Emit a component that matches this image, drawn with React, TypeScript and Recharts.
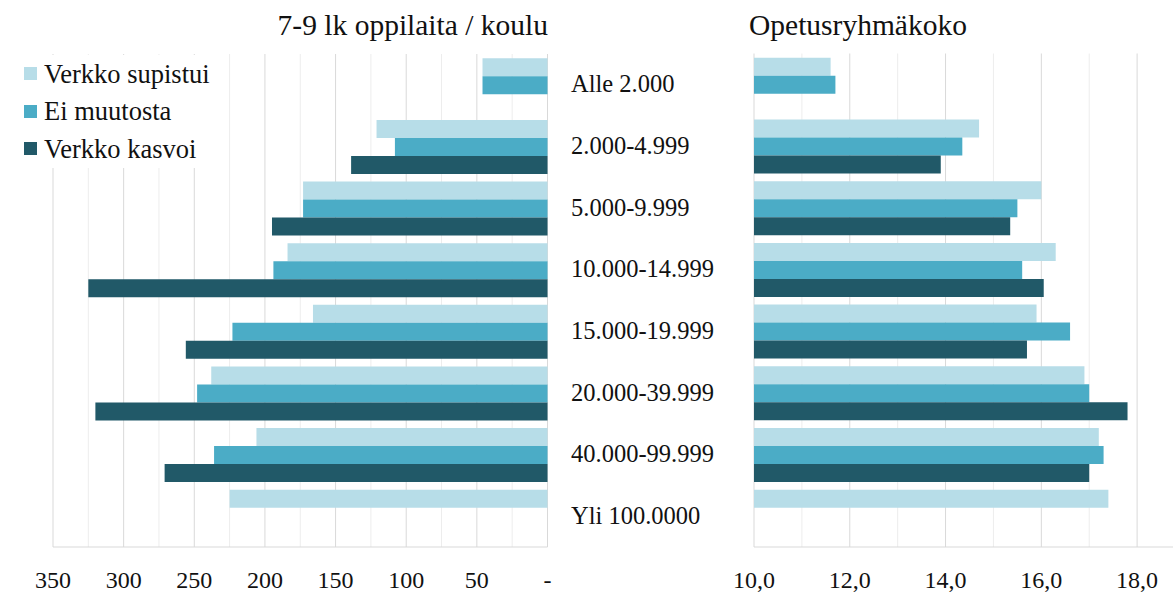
import React from 'react';
import { BarChart, Bar, XAxis, YAxis, CartesianGrid } from 'recharts';

const categories = [
  'Alle 2.000',
  '2.000-4.999',
  '5.000-9.999',
  '10.000-14.999',
  '15.000-19.999',
  '20.000-39.999',
  '40.000-99.999',
  'Yli 100.0000',
];

// 7-9 lk oppilaita / koulu
const oppilaatSupistui = [46, 121, 173, 184, 166, 238, 206, 225];
const oppilaatEiMuutosta = [46, 108, 173, 194, 223, 248, 236, null];
const oppilaatKasvoi = [null, 139, 195, 325, 256, 320, 271, null];

// Opetusryhmäkoko
const ryhmaSupistui = [11.6, 14.7, 16.0, 16.3, 15.9, 16.9, 17.2, 17.4];
const ryhmaEiMuutosta = [11.7, 14.35, 15.5, 15.6, 16.6, 17.0, 17.3, null];
const ryhmaKasvoi = [null, 13.9, 15.35, 16.05, 15.7, 17.8, 17.0, null];

const leftDomain: [number, number] = [0, 350];
const leftTicks = [0, 50, 100, 150, 200, 250, 300, 350];
const leftMinorLines = [25, 75, 125, 175, 225, 275, 325];
const rightDomain: [number, number] = [10, 19];
const rightTicks = [10, 12, 14, 16, 18];
const rightMinorLines = [11, 13, 15, 17];

const seriesNames = ['Verkko supistui', 'Ei muutosta', 'Verkko kasvoi'];
const COLORS = ['#b7dde8', '#4bacc6', '#215968'];

const FONT = 'Liberation Serif, DejaVu Serif, serif';
const MAJOR = '#d9d9d9';
const MINOR = '#ededed';
const TEXT = '#111';
const LABEL_X = 11;

const leftData = categories.map((cat, i) => ({
  cat,
  supistui: oppilaatSupistui[i],
  ei: oppilaatEiMuutosta[i],
  kasvoi: oppilaatKasvoi[i],
}));

const rightData = categories.map((cat, i) => ({
  cat,
  supistui: ryhmaSupistui[i],
  ei: ryhmaEiMuutosta[i],
  kasvoi: ryhmaKasvoi[i],
}));

function CategoryTick({ y, payload }: { y?: number; payload?: { value: string } }) {
  return (
    <text x={LABEL_X} y={y} dy={8} textAnchor="start" fontSize={24.5} fill={TEXT} fontFamily={FONT} style={{ fontFamily: FONT }}>
      {payload?.value}
    </text>
  );
}

function makeValueTick(format: (v: number) => string) {
  return function ValueTick({ x, y, payload }: { x?: number; y?: number; payload?: { value: number } }) {
    return (
      <text x={x} y={y} dy={17} textAnchor="middle" fontSize={24} fill={TEXT} fontFamily={FONT} style={{ fontFamily: FONT }}>
        {format(payload?.value ?? 0)}
      </text>
    );
  };
}

const LeftTick = makeValueTick((v) => (v === 0 ? '-' : String(v)));
const RightTick = makeValueTick((v) => v.toFixed(1).replace('.', ','));

// minor grid lines go through the x axis scale, so they sit behind the bars
function minorGenerator(values: number[], domain: [number, number], reversed: boolean) {
  return (props: any) => {
    const scale = props?.xAxis?.scale;
    return values.map((v) => {
      if (typeof scale === 'function') return scale(v);
      if (scale && typeof scale.map === 'function') return scale.map(v);
      const { left, width } = props.offset;
      const t = (v - domain[0]) / (domain[1] - domain[0]);
      return left + (reversed ? 1 - t : t) * width;
    });
  };
}

function Bars() {
  return [
    <Bar key="s" dataKey="supistui" fill={COLORS[0]} isAnimationActive={false} />,
    <Bar key="e" dataKey="ei" fill={COLORS[1]} isAnimationActive={false} />,
    <Bar key="k" dataKey="kasvoi" fill={COLORS[2]} isAnimationActive={false} />,
  ];
}

const titleStyle: React.CSSProperties = {
  position: 'absolute',
  top: 11,
  fontSize: 29.5,
  lineHeight: '29.5px',
  color: TEXT,
  whiteSpace: 'nowrap',
  fontFamily: FONT,
};

export default function App() {
  return (
    <div
      style={{
        position: 'absolute',
        left: 0,
        top: 0,
        width: 1173,
        height: 592,
        overflow: 'hidden',
        background: '#fff',
        fontFamily: FONT,
      }}
    >
      <div style={{ position: 'absolute', left: 0, top: 0 }}>
        <BarChart
          width={560}
          height={592}
          data={leftData}
          layout="vertical"
          margin={{ top: 54, right: 12.5, left: 53, bottom: 0 }}
          barCategoryGap="7%"
          barGap={0}
        >
          <CartesianGrid
            horizontal={false}
            stroke={MINOR}
            verticalCoordinatesGenerator={minorGenerator(leftMinorLines, leftDomain, true)}
          />
          <CartesianGrid horizontal={false} stroke={MAJOR} />
          <XAxis
            type="number"
            domain={leftDomain}
            ticks={leftTicks}
            reversed
            height={45}
            tickLine={false}
            tickSize={0}
            tickMargin={24}
            axisLine={{ stroke: MAJOR }}
            tick={<LeftTick />}
          />
          <XAxis
            xAxisId="top"
            orientation="top"
            type="number"
            domain={leftDomain}
            height={0}
            tick={false}
            tickLine={false}
            axisLine={{ stroke: MAJOR }}
          />
          <YAxis type="category" dataKey="cat" hide />
          {Bars()}
        </BarChart>
      </div>

      <div style={{ position: 'absolute', left: 560, top: 0 }}>
        <BarChart
          width={632}
          height={592}
          data={rightData}
          layout="vertical"
          margin={{ top: 53.5, right: 7, left: 0, bottom: 0 }}
          barCategoryGap="7%"
          barGap={0}
        >
          <CartesianGrid
            horizontal={false}
            stroke={MINOR}
            verticalCoordinatesGenerator={minorGenerator(rightMinorLines, rightDomain, false)}
          />
          <CartesianGrid horizontal={false} stroke={MAJOR} />
          <XAxis
            type="number"
            domain={rightDomain}
            ticks={rightTicks}
            height={45}
            tickLine={false}
            tickSize={0}
            tickMargin={24}
            axisLine={{ stroke: MAJOR }}
            tick={<RightTick />}
          />
          <XAxis
            xAxisId="top"
            orientation="top"
            type="number"
            domain={rightDomain}
            height={0}
            tick={false}
            tickLine={false}
            axisLine={{ stroke: MAJOR }}
          />
          <YAxis
            type="category"
            dataKey="cat"
            width={194}
            tickLine={false}
            axisLine={false}
            tick={<CategoryTick />}
          />
          {Bars()}
        </BarChart>
      </div>

      <div style={{ ...titleStyle, right: 625 }}>7-9 lk oppilaita / koulu</div>
      <div style={{ ...titleStyle, left: 749 }}>Opetusryhmäkoko</div>

      <div
        style={{
          position: 'absolute',
          left: 15,
          top: 55,
          width: 200,
          height: 113,
          background: '#fff',
        }}
      >
        {seriesNames.map((name, i) => (
          <div key={name} style={{ display: 'flex', alignItems: 'center', height: 37.5 }}>
            <span
              style={{
                display: 'inline-block',
                width: 13,
                height: 13,
                marginLeft: 9,
                marginRight: 7,
                background: COLORS[i],
              }}
            />
            <span style={{ fontSize: 26.5, lineHeight: '26px', color: TEXT, whiteSpace: 'nowrap', fontFamily: FONT }}>
              {name}
            </span>
          </div>
        ))}
      </div>
    </div>
  );
}
